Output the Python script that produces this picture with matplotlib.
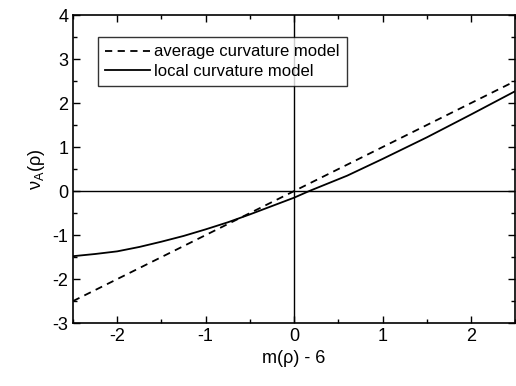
import numpy as np
import matplotlib
matplotlib.use("Agg")
import matplotlib.pyplot as plt
from matplotlib.ticker import MultipleLocator

plt.rcParams['font.family'] = ['Liberation Sans', 'DejaVu Sans']
plt.rcParams['axes.unicode_minus'] = False

# courbes
x_avg = [-2.5, 2.5]
y_avg = [-2.5, 2.5]

x_loc = [-2.5, -2.25, -2.0, -1.75, -1.5, -1.25, -1.0, -0.75, -0.5, -0.25, 0.0, 0.17,
         0.6, 1.0, 1.5, 2.0, 2.5]
y_loc = [-1.48, -1.43, -1.37, -1.27, -1.15, -1.02, -0.87, -0.71, -0.53, -0.34, -0.15, 0.0,
         0.35, 0.73, 1.22, 1.74, 2.27]

fig = plt.figure(figsize=(5.16, 3.86), dpi=100)
ax = fig.add_axes([0.1415, 0.163, 0.857, 0.798])

ax.axhline(0, color='black', lw=1.0)
ax.axvline(0, color='black', lw=1.0)
ax.plot(x_avg, y_avg, '--', color='black', lw=1.3, dashes=(4, 3), label="average curvature model")
ax.plot(x_loc, y_loc, '-', color='black', lw=1.3, label="local curvature model")

ax.set_xlim(-2.5, 2.5)
ax.set_ylim(-3, 4)
ax.xaxis.set_major_locator(MultipleLocator(1))
ax.xaxis.set_minor_locator(MultipleLocator(0.5))
ax.yaxis.set_major_locator(MultipleLocator(1))
ax.yaxis.set_minor_locator(MultipleLocator(0.5))
ax.tick_params(which='both', direction='in', top=True, right=True, labelsize=13, width=1.0)
ax.tick_params(which='major', length=5)
ax.tick_params(which='minor', length=3)
for s in ax.spines.values():
    s.set_linewidth(1.2)

ax.set_xlabel("m(\u03c1) - 6", fontsize=13)
ax.set_ylabel("\u03bd$_\\mathregular{A}$(\u03c1)", fontsize=13)

leg = ax.legend(loc='upper left', bbox_to_anchor=(0.056, 0.929), fontsize=12, frameon=True,
                fancybox=False, edgecolor='black', handlelength=2.7, borderpad=0.45,
                labelspacing=0.25, handletextpad=0.25, borderaxespad=0)
leg.get_frame().set_linewidth(1.0)

plt.savefig("out.png", dpi=100)
